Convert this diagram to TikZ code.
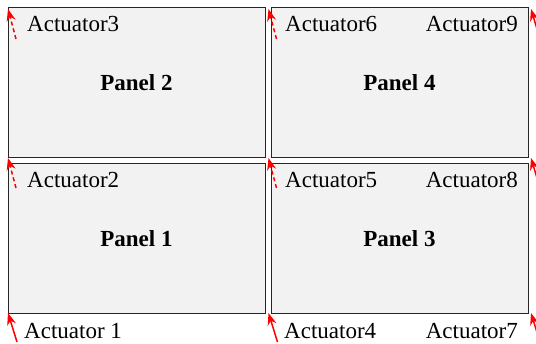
\documentclass[tikz,border=0pt]{standalone}
\usepackage{fontspec}
\setmainfont{Liberation Serif}
\usetikzlibrary{positioning,arrows.meta}

\tikzset{
  panel/.style={draw=black!85, line width=1pt, fill=black!5, minimum width=257pt,
    minimum height=150pt, inner sep=0pt, outer sep=0pt, font=\rmfamily\bfseries\fontsize{23}{27}\selectfont},
  actlabel/.style={inner sep=0pt, font=\rmfamily\fontsize{23}{27}\selectfont},
  actarrow/.style={draw=red, line width=1.5pt, -{Stealth[length=12pt,width=9pt]}},
  actdash/.style={actarrow, dash pattern=on 4pt off 3pt}
}

\begin{document}
\begin{tikzpicture}[x=1pt,y=-1pt]
\useasboundingbox (0,0) rectangle (536,344);
\begin{scope}
\clip (0,0) rectangle (536,344);
% panels
\node[panel] (panel2) at (136.5,83) {Panel 2};
\node[panel, right=6pt of panel2] (panel4) {Panel 4};
\node[panel, below=6pt of panel2] (panel1) {Panel 1};
\node[panel, below=6pt of panel4] (panel3) {Panel 3};
% actuator points
\coordinate (act1) at (8,313);
\coordinate (act2) at (8,158);
\coordinate (act3) at (8,9);
\coordinate (act4) at (268.5,313);
\coordinate (act5) at (268.5,158);
\coordinate (act6) at (268.5,9);
\coordinate (act7) at (531,313);
\coordinate (act8) at (531,158);
\coordinate (act9) at (531,9);
% tails
\coordinate (tail1) at (17,342);
\coordinate (tail2) at (16,188);
\coordinate (tail3) at (16,39);
\coordinate (tail4) at (277.5,342);
\coordinate (tail5) at (276.5,188);
\coordinate (tail6) at (276.5,39);
\coordinate (tail7) at (540,342);
\coordinate (tail8) at (540,188);
\coordinate (tail9) at (540,39);
% arrows
\draw[actarrow] (tail1) -- (act1);
\draw[actdash] (tail2) -- (act2);
\draw[actdash] (tail3) -- (act3);
\draw[actarrow] (tail4) -- (act4);
\draw[actdash] (tail5) -- (act5);
\draw[actdash] (tail6) -- (act6);
\draw[actarrow] (tail7) -- (act7);
\draw[actarrow] (tail8) -- (act8);
\draw[actarrow] (tail9) -- (act9);
\end{scope}
% labels
\node[actlabel, anchor=west] (lab1) at (24,331) {Actuator 1};
\node[actlabel, anchor=west] (lab2) at (27,180) {Actuator2};
\node[actlabel, anchor=west] (lab3) at (27,24) {Actuator3};
\node[actlabel, anchor=west] (lab4) at (284,331) {Actuator4};
\node[actlabel, anchor=west] (lab5) at (285,180) {Actuator5};
\node[actlabel, anchor=west] (lab6) at (285,24) {Actuator6};
\node[actlabel, anchor=east] (lab7) at (518,331) {Actuator7};
\node[actlabel, anchor=east] (lab8) at (518,180) {Actuator8};
\node[actlabel, anchor=east] (lab9) at (518,24) {Actuator9};
\end{tikzpicture}
\end{document}
